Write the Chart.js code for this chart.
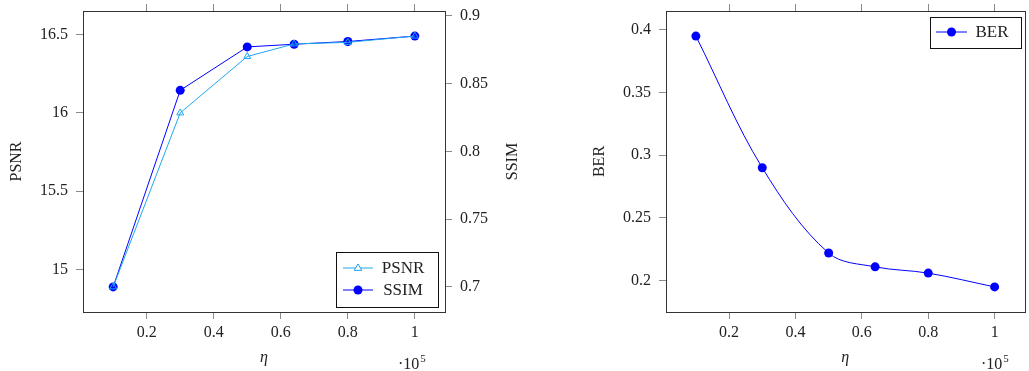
<!DOCTYPE html>
<html>
<head>
<meta charset="utf-8">
<script src="https://cdn.jsdelivr.net/npm/chart.js@4.4.1/dist/chart.umd.min.js"></script>
<style>
  body { margin: 0; background: #fff; }
  #wrap { position: relative; width: 1029px; height: 371px; }
  canvas { position: absolute; top: 0; }
</style>
</head>
<body>
<div id="wrap">
  <canvas id="graficoPsnr" width="540" height="371" style="left:0"></canvas>
  <canvas id="graficoBer" width="449" height="371" style="left:580px"></canvas>
</div>
<script>
// dados
const etaValues = [0.1, 0.3, 0.5, 0.64, 0.8, 1.0];
const psnrValues = [14.89, 16.0, 16.36, 16.44, 16.45, 16.49];
const ssimValues = [0.700, 0.845, 0.877, 0.879, 0.881, 0.885];
const berValues = [0.395, 0.290, 0.222, 0.211, 0.206, 0.195];
const xTicks = [0.2, 0.4, 0.6, 0.8, 1];
const psnrTicks = [15, 15.5, 16, 16.5];
const ssimTicks = [0.7, 0.75, 0.8, 0.85, 0.9];
const berTicks = [0.2, 0.25, 0.3, 0.35, 0.4];

const FONT = "'Liberation Serif', 'DejaVu Serif', serif";
Chart.defaults.font.family = FONT;
Chart.defaults.font.size = 16;
Chart.defaults.color = '#222';

const pts = (ys) => etaValues.map((x, i) => ({ x: x, y: ys[i] }));
const fixTicks = (arr) => (scale) => { scale.ticks = arr.map(v => ({ value: v })); };
// tamanho fixo dos eixos, sem folga extra para os rótulos
const fixSize = (prop, n) => (s) => {
    s[prop] = n;
    s.paddingTop = 0; s.paddingBottom = 0; s.paddingLeft = 0; s.paddingRight = 0;
};
const tickGrid = { drawOnChartArea: false, drawTicks: true, tickLength: 7, color: '#8a8a8a' };

// moldura, legenda e textos extras
function extrasPlugin(cfg) {
    return {
        id: 'extras',
        afterDraw(chart) {
            const ctx = chart.ctx;
            const a = chart.chartArea;
            ctx.save();
            ctx.strokeStyle = '#333';
            ctx.lineWidth = 1;
            ctx.strokeRect(Math.round(a.left) + 0.5, Math.round(a.top) + 0.5,
                Math.round(a.right - a.left), Math.round(a.bottom - a.top));

            // legenda
            const lg = cfg.legend;
            ctx.fillStyle = '#fff';
            ctx.fillRect(lg.x0, lg.y0, lg.x1 - lg.x0, lg.y1 - lg.y0);
            ctx.strokeStyle = '#111';
            ctx.strokeRect(lg.x0 + 0.5, lg.y0 + 0.5, lg.x1 - lg.x0, lg.y1 - lg.y0);
            chart.data.datasets.forEach((ds, i) => {
                const y = lg.rows[i];
                ctx.strokeStyle = ds.borderColor;
                ctx.lineWidth = 1;
                ctx.beginPath();
                ctx.moveTo(lg.lineX0, y);
                ctx.lineTo(lg.lineX1, y);
                ctx.stroke();
                const mx = (lg.lineX0 + lg.lineX1) / 2;
                ctx.beginPath();
                if (ds.pointStyle === 'triangle') {
                    const r = ds.pointRadius;
                    ctx.moveTo(mx, y - r);
                    ctx.lineTo(mx + r * 0.95, y + r * 0.6);
                    ctx.lineTo(mx - r * 0.95, y + r * 0.6);
                    ctx.closePath();
                    ctx.fillStyle = '#fff';
                    ctx.fill();
                    ctx.stroke();
                } else {
                    ctx.arc(mx, y, ds.pointRadius, 0, Math.PI * 2);
                    ctx.fillStyle = ds.pointBackgroundColor;
                    ctx.fill();
                }
                ctx.fillStyle = '#222';
                ctx.font = '17px ' + FONT;
                ctx.textAlign = 'center';
                ctx.textBaseline = 'middle';
                ctx.fillText(ds.label, lg.textX, y + 1);
            });

            // multiplicador do eixo x
            ctx.fillStyle = '#222';
            ctx.textAlign = 'left';
            ctx.textBaseline = 'alphabetic';
            ctx.font = '16px ' + FONT;
            ctx.fillText('\u00b710', cfg.mult.x, cfg.mult.y);
            const w = ctx.measureText('\u00b710').width;
            ctx.font = '11px ' + FONT;
            ctx.fillText('5', cfg.mult.x + w + 1, cfg.mult.y - 7);

            // rótulo do eixo direito
            if (cfg.rightTitle) {
                ctx.save();
                ctx.translate(cfg.rightTitle.x, (a.top + a.bottom) / 2);
                ctx.rotate(-Math.PI / 2);
                ctx.font = '16px ' + FONT;
                ctx.textAlign = 'center';
                ctx.textBaseline = 'middle';
                ctx.fillText(cfg.rightTitle.text, 0, 0);
                ctx.restore();
            }
            ctx.restore();
        }
    };
}

// Primeiro gráfico: PSNR e SSIM
const ctxPsnr = document.getElementById('graficoPsnr').getContext('2d');
const graficoPsnr = new Chart(ctxPsnr, {
    type: 'line',
    data: {
        datasets: [{
            label: 'PSNR',
            data: pts(psnrValues),
            yAxisID: 'y',
            borderColor: '#1ea7ee',
            borderWidth: 1,
            pointStyle: 'triangle',
            pointRadius: 4,
            pointBorderWidth: 1,
            pointBorderColor: '#1ea7ee',
            pointBackgroundColor: 'rgba(0,0,0,0)',
            tension: 0,
            order: 0
        }, {
            label: 'SSIM',
            data: pts(ssimValues),
            yAxisID: 'y2',
            borderColor: '#0000ff',
            borderWidth: 1,
            pointStyle: 'circle',
            pointRadius: 4.5,
            pointBorderWidth: 0,
            pointBackgroundColor: '#0000ff',
            tension: 0,
            order: 1
        }]
    },
    options: {
        responsive: false,
        animation: false,
        devicePixelRatio: 1,
        layout: { padding: 0 },
        plugins: { legend: { display: false }, tooltip: { enabled: false } },
        scales: {
            x: {
                type: 'linear', position: 'bottom', min: 0.01, max: 1.09,
                afterBuildTicks: fixTicks(xTicks),
                afterFit: fixSize('height', 59),
                ticks: { padding: 4, callback: (v) => String(v) },
                grid: tickGrid, border: { display: false },
                title: { display: true, text: 'η', font: { style: 'italic', size: 16 }, padding: { bottom: 4 } }
            },
            x2: {
                type: 'linear', position: 'top', min: 0.01, max: 1.09,
                afterBuildTicks: fixTicks(xTicks),
                afterFit: fixSize('height', 11),
                ticks: { display: false },
                grid: tickGrid, border: { display: false }
            },
            y: {
                type: 'linear', position: 'left', min: 14.73, max: 16.65,
                afterBuildTicks: fixTicks(psnrTicks),
                afterFit: fixSize('width', 83),
                ticks: { padding: 8, callback: (v) => String(v) },
                grid: tickGrid, border: { display: false },
                title: { display: true, text: 'PSNR', padding: { top: 7 } }
            },
            y2: {
                type: 'linear', position: 'right', min: 0.6815, max: 0.9035,
                afterBuildTicks: fixTicks(ssimTicks),
                afterFit: fixSize('width', 95),
                ticks: { padding: 8, callback: (v) => String(v) },
                grid: tickGrid, border: { display: false }
            }
        }
    },
    plugins: [extrasPlugin({
        legend: { x0: 336, y0: 252, x1: 438, y1: 307, rows: [268, 290], lineX0: 343, lineX1: 373, textX: 403 },
        mult: { x: 398, y: 369 },
        rightTitle: { x: 513, text: 'SSIM' }
    })]
});

// Segundo gráfico: BER
const ctxBer = document.getElementById('graficoBer').getContext('2d');
const graficoBer = new Chart(ctxBer, {
    type: 'line',
    data: {
        datasets: [{
            label: 'BER',
            data: pts(berValues),
            borderColor: '#0000ff',
            borderWidth: 1,
            pointStyle: 'circle',
            pointRadius: 4.5,
            pointBorderWidth: 0,
            pointBackgroundColor: '#0000ff',
            tension: 0.35
        }]
    },
    options: {
        responsive: false,
        animation: false,
        devicePixelRatio: 1,
        layout: { padding: { right: 3 } },
        plugins: { legend: { display: false }, tooltip: { enabled: false } },
        scales: {
            x: {
                type: 'linear', position: 'bottom', min: 0.01, max: 1.09,
                afterBuildTicks: fixTicks(xTicks),
                afterFit: fixSize('height', 59),
                ticks: { padding: 4, callback: (v) => String(v) },
                grid: tickGrid, border: { display: false },
                title: { display: true, text: 'η', font: { style: 'italic', size: 16 }, padding: { bottom: 4 } }
            },
            x2: {
                type: 'linear', position: 'top', min: 0.01, max: 1.09,
                afterBuildTicks: fixTicks(xTicks),
                afterFit: fixSize('height', 11),
                ticks: { display: false },
                grid: tickGrid, border: { display: false }
            },
            y: {
                type: 'linear', position: 'left', min: 0.175, max: 0.415,
                afterBuildTicks: fixTicks(berTicks),
                afterFit: fixSize('width', 86),
                ticks: { padding: 8, callback: (v) => String(v) },
                grid: tickGrid, border: { display: false },
                title: { display: true, text: 'BER', padding: { top: 10 } }
            }
        }
    },
    plugins: [extrasPlugin({
        legend: { x0: 350, y0: 17, x1: 441, y1: 48, rows: [32], lineX0: 356, lineX1: 387, textX: 412 },
        mult: { x: 401, y: 369 }
    })]
});
</script>
</body>
</html>
